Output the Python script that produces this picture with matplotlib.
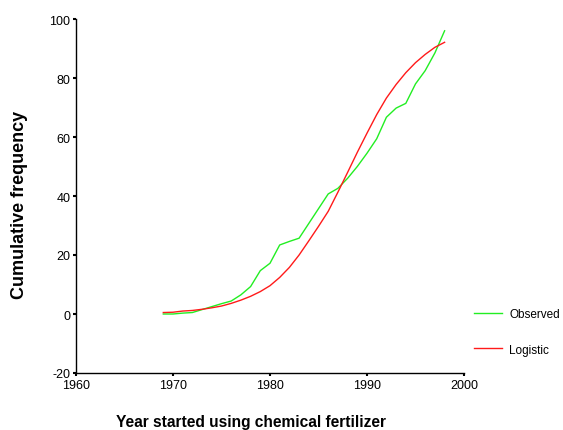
import matplotlib
matplotlib.use("Agg")
import matplotlib.pyplot as plt

plt.rcParams["font.family"] = ["Liberation Sans", "DejaVu Sans"]
plt.rcParams["axes.unicode_minus"] = False

years = list(range(1969, 1999))
observed = [0.0, 0.0, 0.3, 0.5, 1.5, 2.5, 3.5, 4.4, 6.5, 9.3, 14.7, 17.2,
            23.4, 24.6, 25.7, 30.7, 35.7, 40.7, 42.6, 46.0, 50.0, 54.5,
            59.4, 66.7, 69.8, 71.4, 78.0, 82.5, 88.5, 96.0]
logistic = [0.5, 0.6, 1.0, 1.2, 1.6, 2.1, 2.7, 3.6, 4.7, 6.0, 7.6, 9.6,
            12.4, 15.8, 20.0, 24.8, 29.7, 34.8, 41.3, 48.0, 54.8, 61.3,
            67.6, 73.2, 77.8, 81.8, 85.2, 88.0, 90.4, 92.1]

x_ticks = [1960, 1970, 1980, 1990, 2000]
y_ticks = [-20, 0, 20, 40, 60, 80, 100]

fig = plt.figure(figsize=(5.63, 4.31), dpi=100)
ax = fig.add_axes([76 / 563, 57 / 431, 388 / 563, 354 / 431])

ax.plot(years, observed, color="#22ee22", lw=1.0, label="Observed")
ax.plot(years, logistic, color="#ff1a1a", lw=1.0, label="Logistic")

ax.set_xlim(1960, 2000)
ax.set_ylim(-20, 100)
ax.set_xticks(x_ticks)
ax.set_yticks(y_ticks)
ax.tick_params(length=2, width=1.5, labelsize=9, pad=2)

for side in ["top", "right"]:
    ax.spines[side].set_visible(False)
for side in ["left", "bottom"]:
    ax.spines[side].set_linewidth(1.0)

fig.text(251 / 563, 1 - 423 / 431, "Year started using chemical fertilizer",
         ha="center", va="center", fontsize=11.2, fontweight="bold")
fig.text(20 / 563, 1 - 205 / 431, "Cumulative frequency", rotation=90,
         ha="center", va="center", fontsize=13, fontweight="bold")

ax.legend(loc="upper left", bbox_to_anchor=(474 / 563, 1 - 309 / 431),
          bbox_transform=fig.transFigure, frameon=False, fontsize=8.5,
          handlelength=2.4, handletextpad=0.6, labelspacing=2.0,
          borderpad=0, borderaxespad=0)

fig.savefig("out.png", dpi=100)
